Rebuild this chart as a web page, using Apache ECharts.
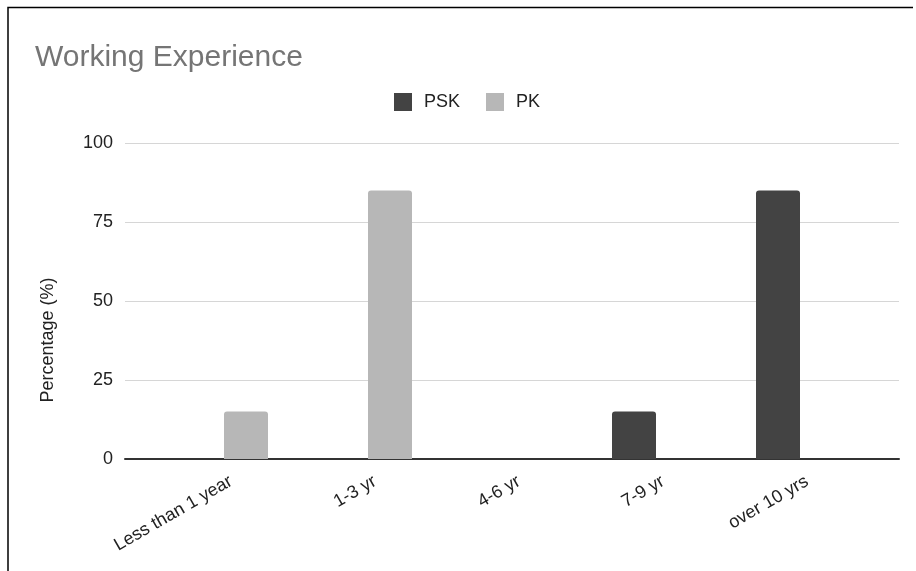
<!DOCTYPE html>
<html>
<head>
<meta charset="utf-8">
<title>Working Experience</title>
<script src="https://cdn.jsdelivr.net/npm/echarts@6/dist/echarts.min.js"></script>
<style>
  html, body { margin: 0; padding: 0; background: #fff; }
  #chart { width: 916px; height: 571px; }
</style>
</head>
<body>
<div id="chart"></div>
<script>
// Share of respondents by years of working experience
const categories = ['Less than 1 year', '1-3 yr', '4-6 yr', '7-9 yr', 'over 10 yrs'];
const pskValues = [0, 0, 0, 15, 85];
const pkValues = [15, 85, 0, 0, 0];
const yTicks = [0, 25, 50, 75, 100];

const FONT = 'Liberation Sans, Arial, sans-serif';
const PSK_COLOR = '#434343';
const PK_COLOR = '#b7b7b7';

const chart = echarts.init(document.getElementById('chart'), null, { renderer: 'canvas' });

const plotTop = 143;
const plotBottom = 112;

chart.setOption({
  animation: false,
  backgroundColor: '#fff',
  textStyle: { fontFamily: FONT },
  title: {
    text: 'Working Experience',
    left: 35,
    top: 43,
    padding: 0,
    textStyle: { fontFamily: FONT, fontSize: 30, fontWeight: 'normal', color: '#757575' }
  },
  legend: {
    left: 394,
    top: 93,
    padding: 0,
    itemWidth: 18,
    itemHeight: 18,
    itemGap: 26,
    icon: 'rect',
    itemStyle: { borderRadius: 2 },
    textStyle: { fontFamily: FONT, fontSize: 18, color: '#222', padding: [0, 0, 0, 7] },
    data: ['PSK', 'PK']
  },
  // grid 0: full-width frame for value axis, gridlines and baseline
  // grid 1: inset category band where the bars sit
  grid: [
    { left: 125, right: 17, top: plotTop, bottom: plotBottom },
    { left: 152, right: 44, top: plotTop, bottom: plotBottom }
  ],
  xAxis: [
    {
      gridIndex: 0,
      type: 'value',
      min: 0,
      max: 1,
      axisLine: { show: true, onZero: false, lineStyle: { color: '#333', width: 2 } },
      axisTick: { show: false },
      axisLabel: { show: false },
      splitLine: { show: false }
    },
    {
      gridIndex: 1,
      type: 'category',
      data: categories,
      axisLine: { show: false },
      axisTick: { show: false },
      axisLabel: {
        rotate: 30,
        margin: 9,
        verticalAlign: 'top',
        padding: [5, 0, 0, 0],
        fontFamily: FONT,
        fontSize: 18,
        color: '#222'
      }
    }
  ],
  yAxis: [
    {
      gridIndex: 0,
      type: 'value',
      min: yTicks[0],
      max: yTicks[yTicks.length - 1],
      interval: 25,
      name: 'Percentage (%)',
      nameLocation: 'middle',
      nameRotate: 90,
      nameGap: 68,
      nameTextStyle: { fontFamily: FONT, fontSize: 18, color: '#222', padding: [0, 78, 0, 0] },
      axisLine: { show: false },
      axisTick: { show: false },
      axisLabel: { margin: 12, fontFamily: FONT, fontSize: 18, color: '#222' },
      splitLine: { show: true, lineStyle: { color: '#d6d6d6', width: 1 } }
    },
    {
      gridIndex: 1,
      type: 'value',
      min: yTicks[0],
      max: yTicks[yTicks.length - 1],
      show: false,
      splitLine: { show: false }
    }
  ],
  series: [
    {
      name: 'PSK',
      type: 'bar',
      xAxisIndex: 1,
      yAxisIndex: 1,
      data: pskValues,
      barWidth: 44,
      barGap: '0%',
      itemStyle: { color: PSK_COLOR, borderRadius: [3, 3, 0, 0] }
    },
    {
      name: 'PK',
      type: 'bar',
      xAxisIndex: 1,
      yAxisIndex: 1,
      data: pkValues,
      barWidth: 44,
      barGap: '0%',
      itemStyle: { color: PK_COLOR, borderRadius: [3, 3, 0, 0] }
    }
  ],
  graphic: [
    {
      type: 'polyline',
      silent: true,
      shape: { points: [[913, 7.5], [8, 7.5], [8, 571]] },
      style: { stroke: '#000', lineWidth: 1.5, fill: null }
    }
  ]
});
</script>
</body>
</html>
